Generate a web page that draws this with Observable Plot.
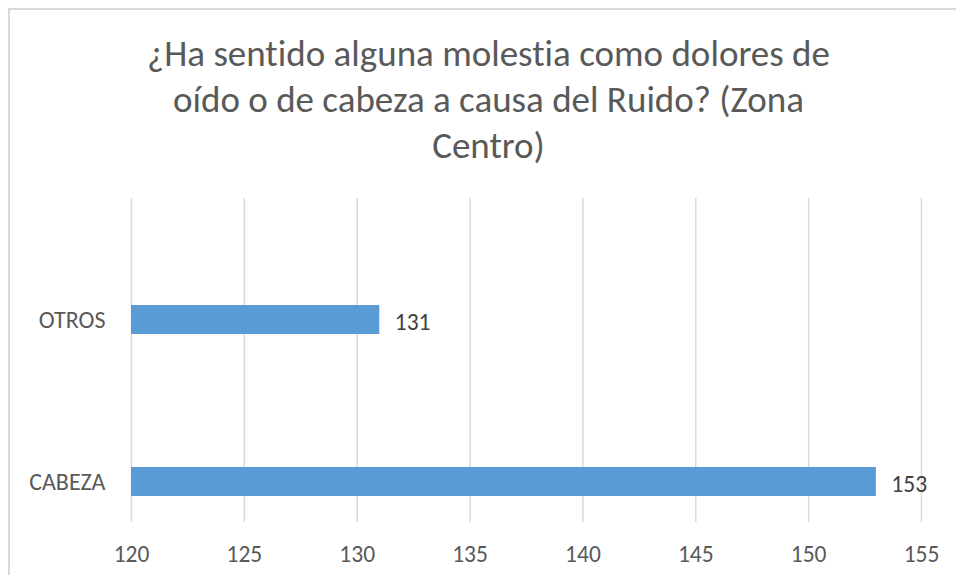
<!DOCTYPE html>
<html>
<head>
<meta charset="utf-8">
<script src="https://cdn.jsdelivr.net/npm/d3@7"></script>
<script src="https://cdn.jsdelivr.net/npm/@observablehq/plot@0.6"></script>
<style>
  html, body { margin: 0; padding: 0; background: #fff; }
  #wrap { position: relative; width: 956px; height: 575px; overflow: hidden; font-family: Carlito, Calibri, sans-serif; font-variant-ligatures: none; }
  #wrap svg text { font-variant-ligatures: none; }
  #frame { position: absolute; left: 8px; top: 8px; width: 1000px; height: 1000px; border-left: 2px solid #d9d9d9; border-top: 2px solid #d9d9d9; box-sizing: border-box; }
  #title { position: absolute; left: 0; top: 30.5px; width: 977px; text-align: center; font-size: 37px; line-height: 46.4px; color: #595959; white-space: nowrap; }
  #chart { position: absolute; left: 0; top: 0; }
</style>
</head>
<body>
<div id="wrap">
  <div id="frame"></div>
  <div id="chart"></div>
  <div id="title">¿Ha sentido alguna molestia como dolores de<br>oído o de cabeza a causa del Ruido? (Zona<br>Centro)</div>
</div>
<script>
const categories = ["CABEZA", "OTROS"];
const values = [153, 131];
const xDomain = [120, 155];
const xTicks = [120, 125, 130, 135, 140, 145, 150, 155];
const yOrder = ["OTROS", "CABEZA"];

const data = categories.map((c, i) => ({ category: c, value: values[i] }));

const fontFamily = "Carlito, Calibri, sans-serif";

const chart = Plot.plot({
  width: 956,
  height: 575,
  marginTop: 198,
  marginBottom: 53,
  marginLeft: 131,
  marginRight: 35,
  style: { fontFamily, background: "transparent", overflow: "visible" },
  x: { domain: xDomain, ticks: xTicks },
  y: { domain: yOrder, range: [238.5, 562.5], paddingInner: 0.82, paddingOuter: 0.41, align: 0.5 },
  marks: [
    Plot.gridX(xTicks, { stroke: "#d9d9d9", strokeOpacity: 1, strokeWidth: 1.5 }),
    Plot.barX(data, { y: "category", x1: xDomain[0], x2: "value", fill: "#5b9bd5" }),
    Plot.text(data, { y: "category", x: "value", text: d => String(d.value), textAnchor: "start", dx: 15, dy: 2.5, fontSize: 23.5, fill: "#404040" }),
    Plot.axisX(xTicks, { tickSize: 0, tickPadding: 23, fontSize: 23.5, color: "#595959", label: null }),
    Plot.axisY({ tickSize: 0, tickPadding: 26, fontSize: 24, color: "#595959", label: null })
  ]
});
document.getElementById("chart").appendChild(chart);
</script>
</body>
</html>
